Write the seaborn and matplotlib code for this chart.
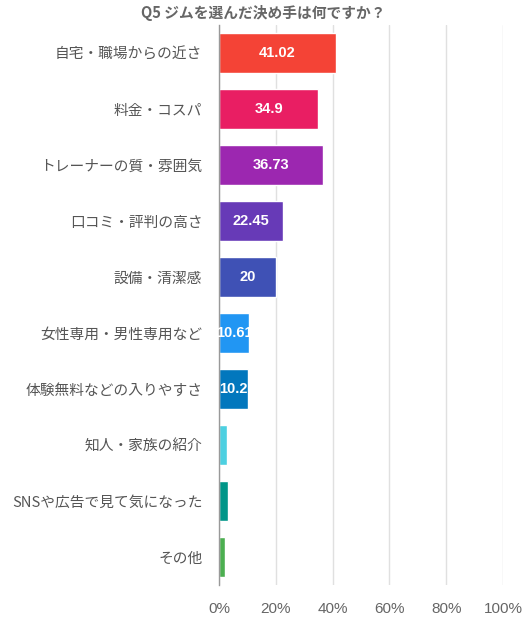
import matplotlib
matplotlib.use("Agg")
import matplotlib.pyplot as plt
import seaborn as sns
import pandas as pd
from matplotlib.ticker import FuncFormatter

categories = ["自宅・職場からの近さ", "料金・コスパ", "トレーナーの質・雰囲気", "口コミ・評判の高さ",
              "設備・清潔感", "女性専用・男性専用など", "体験無料などの入りやすさ", "知人・家族の紹介",
              "SNSや広告で見て気になった", "その他"]
values = [41.02, 34.9, 36.73, 22.45, 20, 10.61, 10.2, 2.9, 3.1, 2.0]
labels = ["41.02", "34.9", "36.73", "22.45", "20", "10.61", "10.2", "", "", ""]
colors = ["#F44336", "#E91E63", "#9C27B0", "#673AB7", "#3F51B5", "#2196F3", "#0277BD",
          "#4DD0E1", "#009688", "#4CAF50"]
xticks = [0, 20, 40, 60, 80, 100]
title = "Q5 ジムを選んだ決め手は何ですか？"

sns.set_theme(style="white")
plt.rcParams['font.family'] = ['Noto Sans CJK JP', 'DejaVu Sans']

df = pd.DataFrame({"cat": categories, "val": values})

fig = plt.figure(figsize=(5.27, 6.25), dpi=100)
ax = fig.add_axes([0.4156, 0.064, 0.539, 0.896])
sns.barplot(data=df, x="val", y="cat", hue="cat", palette=colors, legend=False,
            width=0.72, ax=ax, orient="h", saturation=1)

ax.set_xlim(0, 100)
ax.set_xticks(xticks)
ax.xaxis.set_major_formatter(FuncFormatter(lambda v, p: f"{int(v)}%"))
ax.grid(axis="x", color="#e0e0e0", linewidth=1)
ax.set_axisbelow(True)
for s in ["top", "right", "bottom"]:
    ax.spines[s].set_visible(False)
ax.spines["left"].set_color("#999999")
ax.spines["left"].set_linewidth(1)
ax.tick_params(axis="x", colors="#e0e0e0", length=8, labelcolor="#666666", labelsize=11, pad=4)
ax.tick_params(axis="y", length=0, labelcolor="#555555", labelsize=10.6, pad=12)
for t in ax.get_xticklabels():
    t.set_family(['Liberation Sans', 'DejaVu Sans'])
ax.set_xlabel("")
ax.set_ylabel("")

for i, (v, lab) in enumerate(zip(values, labels)):
    if lab:
        ax.text(v / 2, i, lab, ha="center", va="center", color="white",
                fontsize=10.5, fontweight="bold", family=['Liberation Sans', 'DejaVu Sans'])

fig.text(0.5, 0.979, title, ha="center", va="center", fontsize=10.6,
         fontweight="bold", color="#666666")

fig.savefig("out.png", dpi=100)
